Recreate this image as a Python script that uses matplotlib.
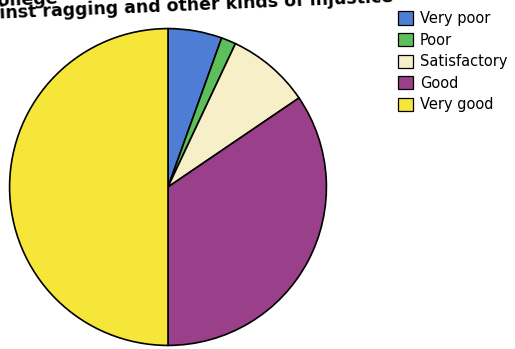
import matplotlib.pyplot as plt
from matplotlib.patches import Patch

# data
labels = ['Very poor', 'Poor', 'Satisfactory', 'Good', 'Very good']
shares = [5.5, 1.5, 8.5, 34.5, 50.0]
colors = ['#4d7dd4', '#5cbf5a', '#f6efc8', '#9a3f8a', '#f7e63a']

title_line1 = 'Safety of students in the college'
title_line2 = 'against ragging and other kinds of injustice'

W, H = 515, 349
fig = plt.figure(figsize=(W / 100, H / 100), dpi=100)
fig.patch.set_facecolor('white')

# pie, about 320 px across, center near (168, 187)
ax = fig.add_axes([8 / W, 2 / H, 320 / W, 320 / H])
ax.pie(shares, colors=colors, startangle=90, counterclock=False, radius=1,
       wedgeprops=dict(edgecolor='black', linewidth=1.2))
ax.set_xlim(-1.01, 1.01)
ax.set_ylim(-1.01, 1.01)
ax.set_aspect('auto')
ax.axis('off')

# title: the photo crops it at the top-left and it is a bit tilted
tkw = dict(fontsize=12.5, fontweight='bold', va='baseline',
           rotation=2.4, rotation_mode='anchor')
fig.text(58 / W, 1 - 4 / H, title_line1, ha='right', **tkw)
fig.text(-36 / W, 1 - 20.5 / H, title_line2, ha='left', **tkw)

handles = [Patch(facecolor=c, edgecolor='black', linewidth=0.9) for c in colors]
fig.legend(handles, labels, loc='upper left', bbox_to_anchor=(398 / W, 1 - 11 / H),
           frameon=False, fontsize=10.5, handlelength=1.0, handleheight=1.0,
           handletextpad=0.5, labelspacing=0.45, borderaxespad=0, borderpad=0)

fig.savefig('out.png', dpi=100)
